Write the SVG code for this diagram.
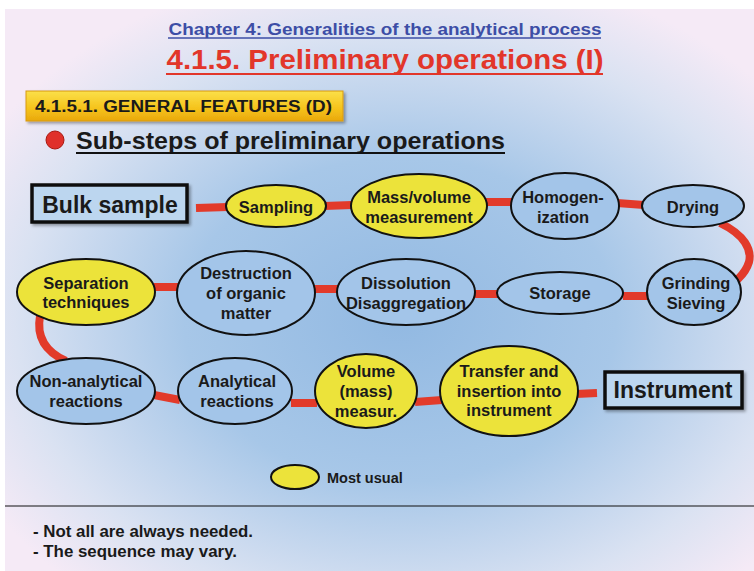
<svg xmlns="http://www.w3.org/2000/svg" width="754" height="571" viewBox="0 0 754 571">
<defs>
<radialGradient id="bg" cx="400" cy="320" r="480" gradientUnits="userSpaceOnUse" gradientTransform="translate(400 320) scale(1 0.75) translate(-400 -320)">
<stop offset="0" stop-color="#92b9e2"/>
<stop offset="0.45" stop-color="#a7c7e8"/>
<stop offset="0.8" stop-color="#dae2f2"/>
<stop offset="1" stop-color="#f5eaf6"/>
</radialGradient>
<linearGradient id="yb" x1="0" y1="0" x2="0" y2="1">
<stop offset="0" stop-color="#fbe04a"/>
<stop offset="0.6" stop-color="#f5c21a"/>
<stop offset="1" stop-color="#e9a80c"/>
</linearGradient>
<filter id="sh" x="-10%" y="-20%" width="130%" height="160%">
<feDropShadow dx="2" dy="2" stdDeviation="1.5" flood-color="#000" flood-opacity="0.35"/>
</filter>
</defs>
<style>
text{font-family:"Liberation Sans",Arial,sans-serif;font-weight:bold;fill:#1a1a1a}
.lbl{font-size:16.5px;text-anchor:middle}
.big{font-size:23px;text-anchor:middle}
.y{fill:#ece33a;stroke:#111;stroke-width:2}
.b{fill:#a3c5e9;stroke:#111;stroke-width:2}
.box{fill:#bcd6ef;stroke:#111;stroke-width:3.5}
.c{fill:none;stroke:#e23a2a;stroke-width:8}
</style>
<rect x="0" y="0" width="754" height="571" fill="#ffffff"/>
<rect x="5" y="9" width="749" height="562" fill="url(#bg)"/>
<line x1="5" y1="506" x2="754" y2="506" stroke="#111" stroke-width="1"/>

<g id="titles">
<text x="385" y="35" text-anchor="middle" style="font-size:17px;fill:#3d4ea6" textLength="433" lengthAdjust="spacingAndGlyphs">Chapter 4: Generalities of the analytical process</text>
<line x1="168" y1="38" x2="601" y2="38" stroke="#3d4ea6" stroke-width="1.5"/>
<text x="385" y="69" text-anchor="middle" style="font-size:27px;fill:#e2362a" textLength="437" lengthAdjust="spacingAndGlyphs">4.1.5. Preliminary operations (I)</text>
<line x1="166" y1="74" x2="603" y2="74" stroke="#e2362a" stroke-width="2"/>
<rect x="26" y="91" width="317" height="30" fill="url(#yb)" stroke="#d89a10" stroke-width="1" filter="url(#sh)"/>
<text x="35" y="112" style="font-size:16px" textLength="297" lengthAdjust="spacingAndGlyphs">4.1.5.1. GENERAL FEATURES (D)</text>
<circle cx="55" cy="140" r="9" fill="#e0302a" stroke="#a81810" stroke-width="1"/>
<text x="76" y="149" style="font-size:24px" textLength="429" lengthAdjust="spacingAndGlyphs">Sub-steps of preliminary operations</text>
<line x1="76" y1="153" x2="505" y2="153" stroke="#111" stroke-width="2"/>
</g>

<g id="connectors">
<line class="c" x1="196" y1="208" x2="228" y2="207"/>
<line class="c" x1="324" y1="206" x2="352" y2="205"/>
<line class="c" x1="485" y1="202" x2="513" y2="202"/>
<line class="c" x1="617" y1="203" x2="644" y2="205"/>
<path class="c" d="M720,223 C745,235 752,250 749,262 C746,272 741,276 737,280"/>
<line class="c" x1="623" y1="296" x2="649" y2="296"/>
<line class="c" x1="474" y1="294" x2="499" y2="294"/>
<line class="c" x1="314" y1="289" x2="338" y2="289"/>
<line class="c" x1="154" y1="287" x2="178" y2="287"/>
<path class="c" d="M40,316 C36,338 46,352 66,361"/>
<line class="c" x1="154" y1="395" x2="180" y2="400"/>
<line class="c" x1="291" y1="403" x2="317" y2="403"/>
<line class="c" x1="415" y1="402" x2="442" y2="400"/>
<line class="c" x1="576" y1="394" x2="597" y2="393"/>
</g>

<g id="bulk-sample">
<rect class="box" x="32" y="185" width="155" height="37" filter="url(#sh)"/>
<text class="big" x="110" y="213">Bulk sample</text>
</g>
<g id="sampling">
<ellipse class="y" cx="276" cy="206" rx="50" ry="21"/>
<text class="lbl" x="276" y="213">Sampling</text>
</g>
<g id="mass-volume">
<ellipse class="y" cx="419" cy="206" rx="68" ry="32"/>
<text class="lbl" x="419" y="203">Mass/volume</text>
<text class="lbl" x="419" y="223">measurement</text>
</g>
<g id="homogenization">
<ellipse class="b" cx="565" cy="206" rx="54" ry="33"/>
<text class="lbl" x="563" y="203">Homogen-</text>
<text class="lbl" x="563" y="223">ization</text>
</g>
<g id="drying">
<ellipse class="b" cx="693" cy="206" rx="51" ry="21"/>
<text class="lbl" x="693" y="213">Drying</text>
</g>
<g id="grinding">
<ellipse class="b" cx="694" cy="292" rx="47" ry="33"/>
<text class="lbl" x="696" y="289">Grinding</text>
<text class="lbl" x="696" y="309">Sieving</text>
</g>
<g id="storage">
<ellipse class="b" cx="560" cy="293" rx="63" ry="21"/>
<text class="lbl" x="560" y="299">Storage</text>
</g>
<g id="dissolution">
<ellipse class="b" cx="406" cy="292" rx="69" ry="33"/>
<text class="lbl" x="406" y="289">Dissolution</text>
<text class="lbl" x="406" y="309">Disaggregation</text>
</g>
<g id="destruction">
<ellipse class="b" cx="246" cy="293" rx="69" ry="42"/>
<text class="lbl" x="246" y="279">Destruction</text>
<text class="lbl" x="246" y="299">of organic</text>
<text class="lbl" x="246" y="319">matter</text>
</g>
<g id="separation">
<ellipse class="y" cx="86" cy="292" rx="69" ry="33"/>
<text class="lbl" x="86" y="289">Separation</text>
<text class="lbl" x="86" y="308">techniques</text>
</g>
<g id="non-analytical">
<ellipse class="b" cx="86" cy="391" rx="69" ry="33"/>
<text class="lbl" x="86" y="387">Non-analytical</text>
<text class="lbl" x="86" y="407">reactions</text>
</g>
<g id="analytical">
<ellipse class="b" cx="235" cy="391" rx="57" ry="33"/>
<text class="lbl" x="237" y="387">Analytical</text>
<text class="lbl" x="237" y="407">reactions</text>
</g>
<g id="volume-mass">
<ellipse class="y" cx="366" cy="391" rx="51" ry="37"/>
<text class="lbl" x="366" y="377">Volume</text>
<text class="lbl" x="366" y="397">(mass)</text>
<text class="lbl" x="366" y="417">measur.</text>
</g>
<g id="transfer">
<ellipse class="y" cx="509" cy="391" rx="69" ry="45"/>
<text class="lbl" x="509" y="377">Transfer and</text>
<text class="lbl" x="509" y="397">insertion into</text>
<text class="lbl" x="509" y="416">instrument</text>
</g>
<g id="instrument">
<rect class="box" x="605" y="372" width="137" height="36" filter="url(#sh)"/>
<text class="big" x="673" y="398">Instrument</text>
</g>

<g id="legend">
<ellipse class="y" cx="295" cy="477" rx="24" ry="12"/>
<text x="327" y="483" style="font-size:14.5px">Most usual</text>
</g>

<g id="notes">
<text x="33" y="537" style="font-size:16px" textLength="220" lengthAdjust="spacingAndGlyphs">- Not all are always needed.</text>
<text x="33" y="557" style="font-size:16px" textLength="204" lengthAdjust="spacingAndGlyphs">- The sequence may vary.</text>
</g>
</svg>
